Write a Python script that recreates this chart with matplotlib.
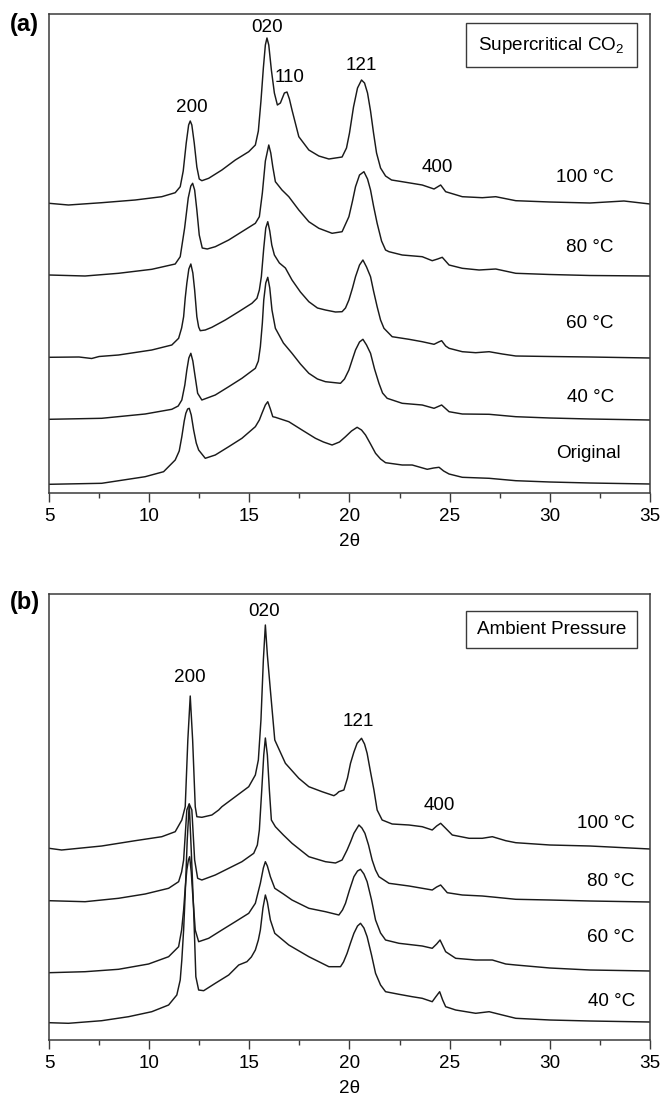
import matplotlib
matplotlib.use("Agg")
import matplotlib.pyplot as plt
from matplotlib.ticker import MultipleLocator
from matplotlib.patches import Rectangle

plt.rcParams['font.family'] = ['Liberation Sans', 'DejaVu Sans']
plt.rcParams['font.size'] = 13.6
plt.rcParams['mathtext.default'] = 'regular'

# ---- panel (a): supercritical CO2, stacked XRD traces (2theta, offset intensity) ----
a100_x = [5.0, 5.97, 7.63, 9.3, 10.63, 11.3, 11.55, 11.7, 11.85, 11.97, 12.05, 12.13, 12.25, 12.38, 12.5,
          12.63, 12.97, 13.63, 14.3, 14.97, 15.3, 15.45, 15.58, 15.7, 15.8, 15.88, 15.97, 16.1, 16.25,
          16.4, 16.55, 16.75, 16.88, 17.0, 17.13, 17.47, 17.97, 18.47, 18.97, 19.63, 19.85, 20.0, 20.2,
          20.4, 20.6, 20.75, 20.9, 21.05, 21.2, 21.35, 21.55, 21.8, 22.1, 22.63, 23.63, 24.22, 24.55,
          24.8, 25.63, 26.63, 27.3, 28.3, 30.0, 32.0, 33.7, 35.0]
a100_y = [289.7, 288, 290.3, 293, 296.3, 300.3, 306.3, 322, 350, 368, 372, 368, 350, 326, 314,
          312.3, 314.7, 323, 333, 341.3, 348, 362, 392, 425, 448, 455, 448, 423, 400,
          388, 390, 400, 401, 394, 383, 356.3, 343, 337, 334, 336, 345, 360, 386,
          405, 413, 410, 400, 382, 360, 340, 325, 317, 313, 311.3, 308, 304, 308,
          301.3, 296.3, 295.3, 296.3, 292.3, 291, 290, 292, 289]

a80_x = [5.0, 6.8, 8.47, 10.13, 11.3, 11.55, 11.77, 11.95, 12.08, 12.17, 12.27, 12.38, 12.5, 12.65, 12.9,
         13.3, 13.97, 14.63, 15.3, 15.5, 15.65, 15.8, 15.97, 16.07, 16.17, 16.3, 16.63, 16.97, 17.47,
         17.97, 18.47, 19.13, 19.63, 19.97, 20.15, 20.3, 20.5, 20.72, 20.9, 21.05, 21.2, 21.38, 21.6,
         21.8, 21.97, 22.63, 23.63, 24.13, 24.4, 24.63, 24.97, 25.63, 26.47, 27.3, 28.3, 30.0, 32.0, 35.0]
a80_y = [218, 217, 219.7, 223.7, 229, 236.3, 265, 295, 307, 309.7, 303, 283, 258, 245, 244,
         246.3, 253, 261.3, 269.7, 276.3, 300, 332, 348, 340, 326.3, 311.3, 303, 296.3, 283,
         271.3, 264.7, 259.7, 261.3, 276.3, 292, 306.3, 318, 321.3, 314, 303, 287, 269.7, 252,
         243, 241.3, 238, 236.3, 232.3, 234, 235.7, 228, 224.7, 223, 224, 219.7, 218.5, 217.5, 217]

a60_x = [5.0, 6.5, 7.13, 7.5, 8.47, 10.13, 11.13, 11.47, 11.62, 11.72, 11.8, 11.88, 11.98, 12.08, 12.18,
         12.27, 12.38, 12.47, 12.55, 12.8, 13.13, 13.8, 14.47, 15.13, 15.38, 15.5, 15.6, 15.72, 15.82,
         15.92, 16.02, 16.12, 16.25, 16.5, 16.8, 17.13, 17.55, 17.97, 18.4, 18.8, 19.3, 19.63, 19.8,
         19.97, 20.15, 20.3, 20.5, 20.67, 20.85, 21.05, 21.2, 21.38, 21.55, 21.72, 22.13, 22.97, 23.63,
         24.22, 24.45, 24.6, 24.8, 24.97, 25.63, 26.3, 26.97, 27.63, 28.3, 30.0, 32.0, 35.0]
a60_y = [135.7, 136, 134.5, 136.5, 138, 143, 148, 154.7, 165, 176.3, 195, 209.7, 224, 229, 220,
         203, 176.3, 166, 162.3, 163, 165.7, 173, 181.3, 189.7, 194.7, 203, 216.3, 245, 265,
         271.3, 262, 248, 238, 230, 225, 213, 201, 191.3, 185, 183, 181, 181.3, 185,
         193, 205, 216.3, 228, 233, 226, 216.3, 202, 186.3, 173, 164.7, 156.3, 153.7, 151.3,
         148.7, 151, 152.3, 147, 144.7, 141.3, 140.3, 141.3, 139, 137, 136.5, 136, 135]

a40_x = [5.0, 7.63, 9.8, 11.13, 11.45, 11.63, 11.78, 11.88, 11.98, 12.08, 12.18, 12.27, 12.42, 12.63, 13.3,
         13.97, 14.63, 15.3, 15.45, 15.55, 15.65, 15.72, 15.82, 15.92, 16.02, 16.13, 16.3, 16.7, 17.13,
         17.55, 17.97, 18.4, 18.8, 19.55, 19.75, 19.97, 20.15, 20.3, 20.5, 20.67, 20.85, 21.05, 21.25,
         21.47, 21.65, 21.88, 22.63, 23.63, 24.22, 24.6, 24.97, 25.63, 26.97, 28.3, 30.0, 32.0, 35.0]
a40_y = [73.7, 74.7, 79, 83.7, 87, 93, 108, 123, 135, 139.7, 132, 119.7, 99.7, 93, 98,
         106.3, 114.7, 124.7, 132, 146.3, 170, 193, 210, 215.7, 205, 183, 164.7, 150, 139.7,
         129, 119.7, 114, 111.3, 109.7, 114, 123, 134, 143, 151, 153.7, 148, 139.7, 124,
         109.7, 100, 94.7, 89.7, 88, 84.7, 88, 81.3, 79, 78.7, 76.3, 75, 74, 73]

aorig_x = [5.0, 7.63, 9.8, 10.72, 11.3, 11.5, 11.63, 11.75, 11.83, 11.92, 12.0, 12.1, 12.22, 12.35, 12.47,
           12.8, 13.3, 13.97, 14.63, 15.3, 15.5, 15.63, 15.8, 15.92, 16.05, 16.17, 16.3, 16.97, 17.63,
           18.3, 18.7, 19.13, 19.5, 19.8, 20.1, 20.38, 20.6, 20.8, 21.05, 21.3, 21.55, 21.8, 22.63,
           23.13, 23.88, 24.2, 24.47, 24.7, 24.97, 25.63, 26.97, 28.3, 30.0, 32.0, 35.0]
aorig_y = [8.7, 9.7, 16.3, 21.3, 33, 42, 56.3, 72, 79.7, 84, 84.7, 78, 63, 50, 43,
           34.7, 38, 46.3, 54.7, 66.3, 73, 79.7, 88, 91.3, 84, 76.3, 75.7, 71.3, 63,
           54.7, 51, 48, 51, 56.3, 62, 65.7, 63, 58, 49, 39.7, 34, 30.3, 28,
           28, 23.7, 25, 25.7, 22, 19, 15.7, 14.7, 12.3, 11, 10, 9]

# ---- panel (b): ambient pressure ----
b100_x = [5.0, 5.63, 7.63, 9.3, 10.63, 11.3, 11.63, 11.8, 11.93, 12.05, 12.17, 12.3, 12.38, 12.63, 13.13,
          13.47, 13.63, 14.3, 14.97, 15.3, 15.45, 15.58, 15.7, 15.8, 15.9, 16.05, 16.27, 16.8, 17.47,
          17.97, 18.63, 19.22, 19.35, 19.47, 19.72, 19.9, 20.05, 20.22, 20.38, 20.6, 20.75, 20.88, 21.05,
          21.22, 21.38, 21.63, 22.13, 22.97, 23.63, 24.13, 24.35, 24.55, 24.8, 25.13, 25.97, 26.63, 27.13,
          27.8, 28.3, 30.0, 32.0, 35.0]
b100_y = [191.7, 190, 194, 199.3, 203.3, 208.3, 220, 233.3, 300, 344, 300, 233.3, 223.3, 222.7, 225,
          230, 233.3, 243.3, 253.3, 265, 280, 320, 380, 415, 385, 350, 300, 276.7, 261.7,
          253.3, 248.3, 244.3, 246, 248.3, 250, 262, 276.7, 288, 296.7, 301.7, 296, 286.7, 268,
          250, 230, 220, 216, 215, 213.3, 210, 214, 216.7, 211.7, 205, 201.7, 201.7, 203.3,
          199.3, 197.3, 195, 194, 191]

b80_x = [5.0, 6.8, 8.47, 9.8, 10.97, 11.47, 11.62, 11.72, 11.8, 11.88, 12.0, 12.13, 12.2, 12.27, 12.42,
         12.63, 13.3, 13.97, 14.63, 15.22, 15.4, 15.5, 15.62, 15.72, 15.8, 15.9, 16.0, 16.1, 16.3,
         16.7, 17.13, 17.97, 18.8, 19.3, 19.63, 19.88, 20.05, 20.22, 20.47, 20.62, 20.77, 20.95, 21.13,
         21.3, 21.47, 21.97, 22.97, 24.13, 24.35, 24.55, 24.88, 25.63, 26.63, 27.3, 28.3, 30.0, 32.0, 35.0]
b80_y = [139.3, 138.3, 141.7, 146, 151.7, 158.3, 168, 180, 205, 230, 236, 230, 205, 180, 161.7,
         160, 165, 171.7, 178.3, 186.7, 195, 210, 250, 285, 302, 285, 250, 220, 213.3,
         205, 196.7, 183.3, 178.3, 177, 180, 190, 198, 206.7, 215, 212, 206.7, 195, 180,
         170, 163.3, 156.7, 154, 150, 153, 155, 147.3, 145, 144, 142.7, 140.7, 140, 139, 138]

b60_x = [5.0, 6.8, 8.47, 9.97, 10.97, 11.47, 11.62, 11.72, 11.8, 11.88, 11.96, 12.02, 12.1, 12.17, 12.3,
         12.47, 12.97, 13.63, 14.3, 14.97, 15.3, 15.55, 15.7, 15.8, 15.9, 16.05, 16.27, 16.7, 17.13,
         17.97, 18.8, 19.47, 19.65, 19.8, 20.0, 20.22, 20.4, 20.55, 20.72, 20.88, 21.1, 21.3, 21.55,
         21.8, 22.47, 23.63, 24.13, 24.35, 24.52, 24.8, 25.3, 26.3, 27.13, 27.8, 28.3, 30.0, 32.0, 35.0]
b60_y = [67.3, 68.3, 70.7, 76, 83.3, 93.3, 110, 130, 152, 170, 180, 183.3, 168, 146.7, 110,
         98.3, 101.7, 110, 118.3, 126.7, 136.7, 156.7, 172, 178.3, 174, 163.3, 151.7, 146, 140,
         131.7, 128.3, 125, 130, 136.7, 150, 163.3, 169, 170.7, 166, 158.3, 140, 120, 107,
         100, 96.7, 94, 91.7, 96, 100, 88.3, 81.7, 80, 80, 76, 75, 72, 70, 69]

b40_x = [5.0, 5.97, 7.63, 8.97, 10.13, 10.97, 11.38, 11.55, 11.63, 11.72, 11.8, 11.9, 12.0, 12.1, 12.22,
         12.33, 12.47, 12.72, 13.3, 13.97, 14.47, 14.88, 15.1, 15.3, 15.45, 15.55, 15.68, 15.8, 15.9,
         16.05, 16.27, 16.97, 17.97, 18.97, 19.55, 19.7, 19.88, 20.05, 20.22, 20.4, 20.55, 20.72, 20.88,
         21.1, 21.3, 21.55, 21.8, 22.47, 23.13, 23.63, 24.13, 24.3, 24.5, 24.65, 24.8, 25.3, 26.3,
         26.97, 27.63, 28.3, 30.0, 32.0, 35.0]
b40_y = [17.3, 16.7, 19.3, 23.3, 28.3, 35, 45, 60, 80, 110, 146.7, 200, 236, 190, 130,
         63.3, 50, 49.3, 56.7, 65, 75, 78.3, 83, 90, 100, 110, 132, 145, 138,
         120, 106.7, 95, 83.3, 73.3, 73.3, 78, 86.7, 97, 106.7, 114, 116.7, 112, 103.3,
         85, 66.7, 55, 48.3, 45.7, 43.3, 41.7, 38.3, 43, 48.3, 40, 33.3, 30, 26.7,
         28.3, 25, 21.7, 20, 19, 18]

# peak labels: (text, 2theta, height)
a_peaks = [('200', 12.15, 386), ('020', 15.9, 465), ('110', 17.0, 415), ('121', 20.6, 428), ('400', 24.4, 325)]
b_peaks = [('200', 12.05, 362), ('020', 15.75, 428), ('121', 20.45, 319), ('400', 24.5, 235)]
a_names = [('100 °C', 33.2, 315), ('80 °C', 33.2, 245), ('60 °C', 33.2, 170), ('40 °C', 33.2, 96), ('Original', 33.55, 40)]
b_names = [('100 °C', 34.25, 217), ('80 °C', 34.25, 159), ('60 °C', 34.25, 103), ('40 °C', 34.25, 38)]

a_curves = [(a100_x, a100_y), (a80_x, a80_y), (a60_x, a60_y), (a40_x, a40_y), (aorig_x, aorig_y)]
b_curves = [(b100_x, b100_y), (b80_x, b80_y), (b60_x, b60_y), (b40_x, b40_y)]

fig = plt.figure(figsize=(6.65, 11.02), dpi=100)
ax_a = fig.add_axes([49/665, 1-493/1102, 601/665, 479/1102])
ax_b = fig.add_axes([49/665, 1-1040/1102, 601/665, 446/1102])

line_col = '#1a1a1a'
spine_col = '#3a3a3a'


def setup(ax, curves, peaks, names, ytop, box_text, box_y0, box_y1):
    for xs, ys in curves:
        ax.plot(xs, ys, color=line_col, lw=1.05, solid_joinstyle='round')
    for t, x, y in peaks:
        ax.text(x, y, t, ha='center', va='center')
    for t, x, y in names:
        ax.text(x, y, t, ha='right', va='center')
    ax.set_xlim(5, 35)
    ax.set_ylim(0, ytop)
    ax.set_yticks([])
    ax.xaxis.set_major_locator(MultipleLocator(5))
    ax.xaxis.set_minor_locator(MultipleLocator(2.5))
    ax.tick_params(axis='x', which='major', direction='out', length=6.5, width=1.0,
                   pad=4, color=spine_col)
    ax.tick_params(axis='x', which='minor', direction='out', length=3.4, width=1.0, color=spine_col)
    for s in ax.spines.values():
        s.set_linewidth(1.1)
        s.set_color(spine_col)
    ax.set_xlabel('2θ', labelpad=6)
    # labelled box in the upper right
    x0, x1 = (466-49)/601, (637-49)/601
    ax.add_patch(Rectangle((x0, box_y0), x1-x0, box_y1-box_y0, transform=ax.transAxes,
                           fill=False, lw=1.0, ec=spine_col))
    ax.text((x0+x1)/2, (box_y0+box_y1)/2, box_text, transform=ax.transAxes,
            ha='center', va='center')


setup(ax_a, a_curves, a_peaks, a_names, 479, 'Supercritical CO$_2$', (493-67)/479, (493-23)/479)
setup(ax_b, b_curves, b_peaks, b_names, 446, 'Ambient Pressure', (1040-648)/446, (1040-611)/446)

fig.text(24/665, 1-24/1102, '(a)', fontsize=17, fontweight='bold', ha='center', va='center')
fig.text(25/665, 1-603/1102, '(b)', fontsize=17, fontweight='bold', ha='center', va='center')

fig.savefig('out.png', dpi=100)
